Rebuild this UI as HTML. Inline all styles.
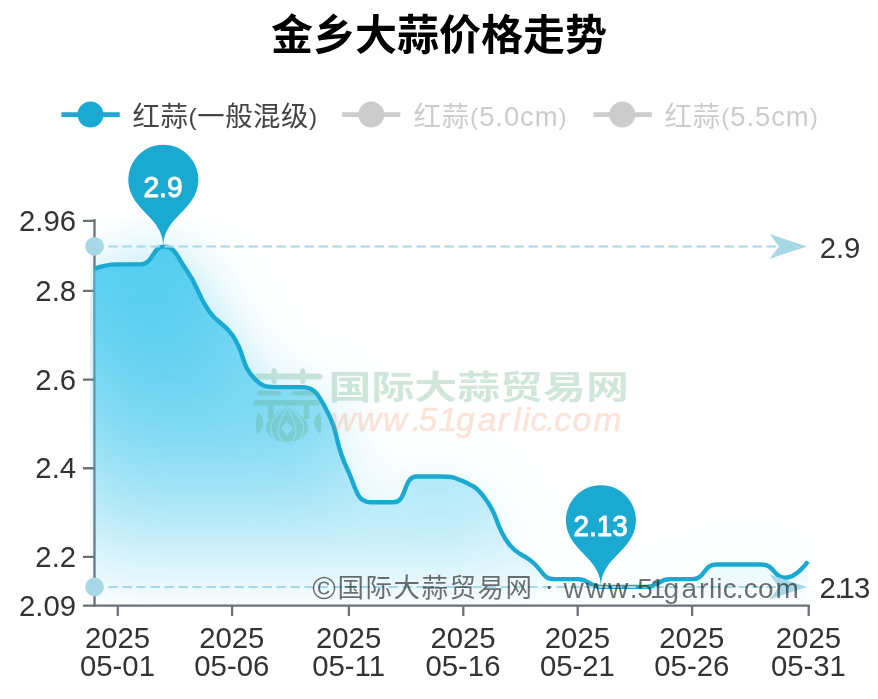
<!DOCTYPE html>
<html lang="zh-CN">
<head>
<meta charset="utf-8">
<title>金乡大蒜价格走势</title>
<style>
html,body{margin:0;padding:0;background:#fff;}
body{width:878px;height:699px;overflow:hidden;font-family:"Liberation Sans","Noto Sans CJK SC",sans-serif;}
svg{display:block;}
text{font-family:"Liberation Sans","Noto Sans CJK SC",sans-serif;}
.ax{font-size:29.3px;fill:#333;}
.lg{font-size:27.4px;letter-spacing:0.6px;}
</style>
</head>
<body>
<svg width="878" height="699" viewBox="0 0 878 699">
<defs>
<linearGradient id="ag" gradientUnits="userSpaceOnUse" x1="0" y1="246" x2="0" y2="605">
<stop offset="0" stop-color="#42c8ee" stop-opacity="0.9"/>
<stop offset="0.5" stop-color="#42c8ee" stop-opacity="0.5"/>
<stop offset="1" stop-color="#42c8ee" stop-opacity="0"/>
</linearGradient>
<filter id="glow" filterUnits="userSpaceOnUse" x="0" y="100" width="878" height="599" color-interpolation-filters="sRGB">
<feGaussianBlur in="SourceAlpha" stdDeviation="32" result="b0"/>
<feOffset in="b0" dx="0" dy="9" result="b"/>
<feFlood flood-color="#3cc4ec" flood-opacity="0.68"/>
<feComposite in2="b" operator="in" result="s"/>
<feMerge><feMergeNode in="s"/><feMergeNode in="SourceGraphic"/></feMerge>
</filter>
<mask id="bm" maskUnits="userSpaceOnUse" x="260" y="400" width="55" height="45">
<rect x="260" y="400" width="55" height="45" fill="#fff"/>
<g fill="none" stroke="#000" stroke-width="1.2">
<path d="M286.3 406C281 412 270.5 419 270.7 427.5C270.8 433 272.5 437 275 439.8"/>
<path d="M287 407.5C283.5 414 277.5 424 278.3 432.5C278.8 437 281 440 284 441.8"/>
<path d="M287.9 406C293.2 412 303.7 419 303.5 427.5C303.4 433 301.7 437 299.2 439.8"/>
<path d="M287.2 407.5C290.7 414 296.7 424 295.9 432.5C295.4 437 293.2 440 290.2 441.8"/>
</g>
<path d="M287.1 421.6L293.1 428.6L287.1 435.6L281.1 428.6Z" fill="#000"/>
</mask>
<clipPath id="gc"><rect x="90.2" y="217.3" width="723.2" height="390.7"/></clipPath>
</defs>
<rect width="878" height="699" fill="#fff"/>

<!-- title -->
<text x="439" y="50" text-anchor="middle" font-size="42" font-weight="bold" fill="#000">金乡大蒜价格走势</text>

<!-- legend -->
<g>
<line x1="61.4" y1="114.6" x2="119.7" y2="114.6" stroke="#19a9d1" stroke-width="4.67"/>
<circle cx="90.5" cy="114.6" r="13" fill="#19a9d1"/>
<text class="lg" x="132.4" y="126.2" fill="#444">红蒜<tspan font-size="24.5" dy="-1.2">(</tspan><tspan dy="1.2">一般混级</tspan><tspan font-size="24.5" dy="-1.2">)</tspan></text>
<line x1="342.2" y1="114.6" x2="400.3" y2="114.6" stroke="#ccc" stroke-width="4.67"/>
<circle cx="371.2" cy="114.6" r="13" fill="#ccc"/>
<text class="lg" x="413.4" y="126.2" fill="#ccc" style="letter-spacing:0.95px">红蒜<tspan font-size="24.5" dy="-1.2">(</tspan><tspan dy="1.2">5.0cm</tspan><tspan font-size="24.5" dy="-1.2">)</tspan></text>
<line x1="593.6" y1="114.6" x2="651.8" y2="114.6" stroke="#ccc" stroke-width="4.67"/>
<circle cx="622.3" cy="114.6" r="13" fill="#ccc"/>
<text class="lg" x="664.5" y="126.2" fill="#ccc" style="letter-spacing:0.95px">红蒜<tspan font-size="24.5" dy="-1.2">(</tspan><tspan dy="1.2">5.5cm</tspan><tspan font-size="24.5" dy="-1.2">)</tspan></text>
</g>

<!-- axes -->
<g stroke="#6e7079" stroke-width="2.3" fill="none">
<line x1="94.5" y1="218.9" x2="94.5" y2="606.85"/>
<line x1="94.5" y1="605.7" x2="809.9" y2="605.7"/>
<path d="M83 220.9H94.5M83 290.93H94.5M83 379.6H94.5M83 468.27H94.5M83 556.93H94.5M83 605.7H94.5"/>
<path d="M117.8 605.7V615.9M232.1 605.7V615.9M348.9 605.7V615.9M463.3 605.7V615.9M577.7 605.7V615.9M692.1 605.7V615.9M808.7 605.7V615.9"/>
</g>
<g class="ax" text-anchor="end">
<text x="76.1" y="230.9">2.96</text>
<text x="76.1" y="300.93">2.8</text>
<text x="76.1" y="389.6">2.6</text>
<text x="76.1" y="478.27">2.4</text>
<text x="76.1" y="566.93">2.2</text>
<text x="76.1" y="615.7">2.09</text>
</g>
<g class="ax" text-anchor="middle">
<text x="117.5" y="647.8">2025</text><text x="117.5" y="676">05-01</text>
<text x="231.8" y="647.8">2025</text><text x="231.8" y="676">05-06</text>
<text x="348.6" y="647.8">2025</text><text x="348.6" y="676">05-11</text>
<text x="463" y="647.8">2025</text><text x="463" y="676">05-16</text>
<text x="577.4" y="647.8">2025</text><text x="577.4" y="676">05-21</text>
<text x="691.8" y="647.8">2025</text><text x="691.8" y="676">05-26</text>
<text x="808.4" y="647.8">2025</text><text x="808.4" y="676">05-31</text>
</g>

<!-- area + line -->
<g clip-path="url(#gc)">
<path d="M94.35 268.77 C94.35 268.77 105.75 264.33 117.37 264.33 C128.77 264.33 130.21 264.33 140.39 264.33 C153.23 264.33 152.61 246.6 163.41 246.6 C175.63 246.6 177.02 256.78 186.43 270.1 C200.04 289.37 195.83 292.5 209.45 311.77 C218.85 325.08 223.33 321.8 232.47 335.27 C246.35 355.72 239.98 364.06 255.49 379.6 C263 387.14 266.7 387.14 278.5 387.14 C289.72 387.14 291.51 387.14 301.52 387.14 C314.53 387.14 317.48 393.54 324.54 406.2 C340.49 434.77 333.1 439.44 347.56 469.6 C356.12 487.43 355.99 502.18 370.58 502.18 C379 502.18 384.39 502.18 393.6 502.18 C407.41 502.18 402.81 476.47 416.62 476.47 C425.83 476.47 428.25 476.47 439.64 476.47 C451.27 476.47 452.42 476.47 462.66 481.12 C475.44 486.94 477.16 487.74 485.68 499.3 C500.18 518.99 494.14 524.01 508.7 543.63 C517.16 555.05 520.21 552.5 531.72 561.37 C543.23 570.23 541.89 579.1 554.74 579.1 C564.91 579.1 566.56 579.1 577.76 579.1 C589.58 579.1 588.95 586.9 600.78 586.9 C611.97 586.9 612.29 586.9 623.8 586.9 C635.3 586.9 635.62 586.9 646.81 586.9 C658.64 586.9 658.01 579.1 669.83 579.1 C681.03 579.1 682.32 579.1 692.85 579.1 C705.34 579.1 703.39 564.47 715.87 564.47 C726.41 564.47 727.38 564.47 738.89 564.47 C750.4 564.47 751.23 564.47 761.91 564.47 C774.25 564.47 773.77 577.77 784.93 577.77 C796.79 577.77 807.95 561.37 807.95 561.37 L807.95 605.7 L94.35 605.7 Z" fill="url(#ag)" filter="url(#glow)"/>
<path d="M94.35 268.77 C94.35 268.77 105.75 264.33 117.37 264.33 C128.77 264.33 130.21 264.33 140.39 264.33 C153.23 264.33 152.61 246.6 163.41 246.6 C175.63 246.6 177.02 256.78 186.43 270.1 C200.04 289.37 195.83 292.5 209.45 311.77 C218.85 325.08 223.33 321.8 232.47 335.27 C246.35 355.72 239.98 364.06 255.49 379.6 C263 387.14 266.7 387.14 278.5 387.14 C289.72 387.14 291.51 387.14 301.52 387.14 C314.53 387.14 317.48 393.54 324.54 406.2 C340.49 434.77 333.1 439.44 347.56 469.6 C356.12 487.43 355.99 502.18 370.58 502.18 C379 502.18 384.39 502.18 393.6 502.18 C407.41 502.18 402.81 476.47 416.62 476.47 C425.83 476.47 428.25 476.47 439.64 476.47 C451.27 476.47 452.42 476.47 462.66 481.12 C475.44 486.94 477.16 487.74 485.68 499.3 C500.18 518.99 494.14 524.01 508.7 543.63 C517.16 555.05 520.21 552.5 531.72 561.37 C543.23 570.23 541.89 579.1 554.74 579.1 C564.91 579.1 566.56 579.1 577.76 579.1 C589.58 579.1 588.95 586.9 600.78 586.9 C611.97 586.9 612.29 586.9 623.8 586.9 C635.3 586.9 635.62 586.9 646.81 586.9 C658.64 586.9 658.01 579.1 669.83 579.1 C681.03 579.1 682.32 579.1 692.85 579.1 C705.34 579.1 703.39 564.47 715.87 564.47 C726.41 564.47 727.38 564.47 738.89 564.47 C750.4 564.47 751.23 564.47 761.91 564.47 C774.25 564.47 773.77 577.77 784.93 577.77 C796.79 577.77 807.95 561.37 807.95 561.37" fill="none" stroke="#19a9d1" stroke-width="4.4" stroke-linejoin="round"/>
</g>

<!-- mark lines -->
<g fill="#a6d8e5" stroke="none">
<line x1="94.5" y1="246.4" x2="779" y2="246.4" stroke="#a6d8e5" stroke-width="2" stroke-dasharray="9.33 4.67"/>
<circle cx="94.5" cy="246.4" r="9.3"/>
<path transform="translate(807,246.4)" d="M0 0L-37.3 -12.4L-28 0L-37.3 12.4Z"/>
<line x1="94.5" y1="586.9" x2="779" y2="586.9" stroke="#a6d8e5" stroke-width="2" stroke-dasharray="9.33 4.67"/>
<circle cx="94.5" cy="586.9" r="9.3"/>
<path transform="translate(807,586.9)" d="M0 0L-37.3 -12.4L-28 0L-37.3 12.4Z"/>
</g>
<text class="ax" x="819.7" y="258">2.9</text>
<text class="ax" x="819.5 834.5 838.5 854" y="597.9">2.13</text>

<!-- mark points -->
<g fill="#19a9d1">
<path transform="translate(163.3,246.4)" d="M-31.62 -51.67 A35 35 0 1 1 31.62 -51.67 C22.62 -32.69 0 -24.5 0 0 C0 -24.5 -22.62 -32.69 -31.62 -51.67 Z"/>
<path transform="translate(600.9,586.9)" d="M-31.62 -51.67 A35 35 0 1 1 31.62 -51.67 C22.62 -32.69 0 -24.5 0 0 C0 -24.5 -22.62 -32.69 -31.62 -51.67 Z"/>
</g>
<g font-size="30" fill="#fff" stroke="#fff" stroke-width="1" stroke-linejoin="round" text-anchor="middle">
<text transform="translate(163,196.6) scale(0.94,1)">2.9</text>
<text transform="translate(600.7,536.2) scale(0.93,1)">2.13</text>
</g>

<!-- logo watermark -->
<g opacity="0.28">
<g fill="#58a97c" stroke="none" id="logo">
<rect x="254" y="373.5" width="68.5" height="6" rx="3"/>
<rect x="271.5" y="368.2" width="5.2" height="15.6" rx="2.6"/>
<rect x="300.2" y="368.2" width="5.2" height="15.6" rx="2.6"/>
<rect x="257.4" y="391" width="23.8" height="4.6" rx="2.3"/>
<rect x="291.5" y="391" width="24.5" height="4.6" rx="2.3"/>
<rect x="253.2" y="400" width="67" height="5.4" rx="2.7"/>
<rect x="268" y="403" width="5.6" height="16" />
<rect x="303.6" y="403" width="5.8" height="16" />
<path d="M257.6 412.2C264.6 416.5 265.6 428 256.8 434C255.4 427 255.4 419 257.6 412.2Z"/>
<path d="M319.6 412.2C312.6 416.5 311.6 428 320.4 434C321.8 427 321.8 419 319.6 412.2Z"/>
<path mask="url(#bm)" d="M287.1 404.6C284 409 269 416 266 425.8C265 433 271 441.8 287.1 441.8C303.2 441.8 309.2 433 308.2 425.8C305.2 416 290.2 409 287.1 404.6Z"/>
</g>
<g transform="scale(1.3,1)"><text y="398.6" x="269.2 302.2 335.2 368.2 401.2 434.2 467.2" text-anchor="middle" font-size="33" font-weight="bold" fill="#58a97c">国际大蒜贸易网</text></g>
<text y="430.6" x="331.3 357.1 382.9 411.5 418.5 438.5 456 477.7 497.8 513.3 522.4 530.5 546 554.2 572.4 593.5" font-size="33.5" font-style="italic" fill="#f08a5d" stroke="#f08a5d" stroke-width="0.6" opacity="0.85">www.51garlic.com</text>
</g>

<!-- bottom watermark -->
<g fill="#000" fill-opacity="0.56">
<text x="312.3" y="598.6" font-size="32">©</text>
<text y="597" x="350.8 378.8 406.8 434.8 462.8 490.8 518.8" text-anchor="middle" font-size="26.5">国际大蒜贸易网</text>
<text x="544.4" y="594.6" font-size="28">·</text>
<text y="598" x="563.6 585.8 608 629.7 637.3 649.8 663.6 681.5 699 709 716.3 722.7 735.7 743.7 757.9 775.6" font-size="28">www.51garlic.com</text>
</g>
</svg>
</body>
</html>
